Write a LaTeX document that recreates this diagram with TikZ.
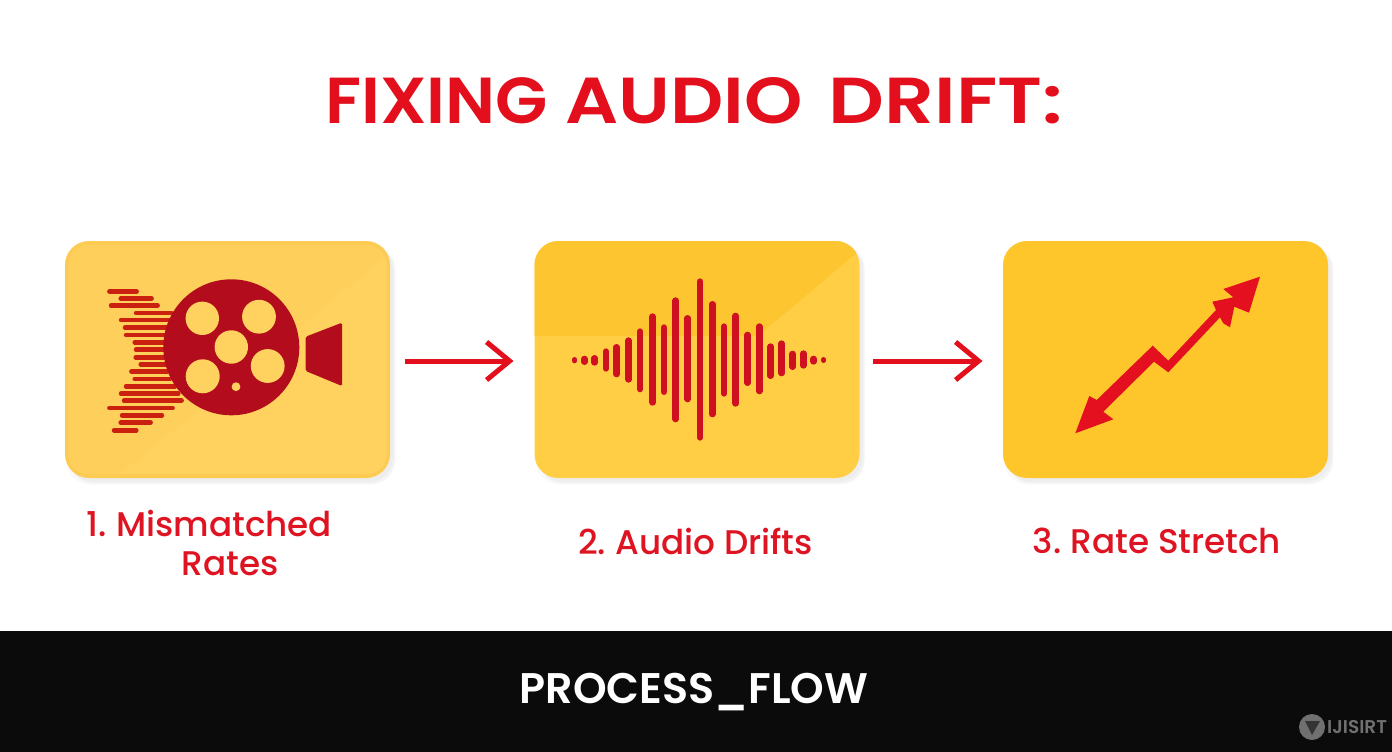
\documentclass[tikz,border=0pt]{standalone}
\usepackage{fontspec}
\setmainfont{Poppins}
\newfontfamily\titlefont{Poppins SemiBold}[FakeStretch=1.12]
\newfontfamily\labelfont{Poppins Medium}
\newfontfamily\footfont{Poppins SemiBold}
\usetikzlibrary{arrows.meta}
\definecolor{tred}{HTML}{E30F1C}
\definecolor{lred}{HTML}{DF1422}
\definecolor{reel}{HTML}{B30C1C}
\definecolor{stripe}{HTML}{C9200F}
\definecolor{wave}{HTML}{CE1020}
\definecolor{aok}{HTML}{E4101F}
\definecolor{cardA}{HTML}{FDCB52}
\definecolor{cardAin}{HTML}{FFD25F}
\definecolor{cardB}{HTML}{FFCE45}
\definecolor{cardBdark}{HTML}{FDC631}
\definecolor{cardC}{HTML}{FEC62B}
\definecolor{barblack}{HTML}{0B0B0B}
\definecolor{markgrey}{HTML}{707070}
\tikzset{
  cardbox/.style={minimum width=325pt,minimum height=237pt,rounded corners=24pt,inner sep=0pt,outer sep=0pt,draw=none},
  shadowbox/.style={cardbox,fill=black,fill opacity=0.025},
  flowline/.style={draw=tred,line width=5pt,-{Straight Barb[length=23pt,width=38pt,line width=5pt]}},
  steplabel/.style={text=lred,font=\labelfont\fontsize{34.2}{40}\selectfont,align=center,inner sep=0pt},
  stripeline/.style={draw=stripe,line width=4.4pt,line cap=round},
  waveline/.style={draw=wave,line cap=round},
}
\begin{document}
\begin{tikzpicture}[x=1pt,y=-1pt]
\useasboundingbox (0,0) rectangle (1392,752);
\fill[white] (0,0) rectangle (1392,752);
% shadows
\foreach \cx in {227.5,697,1165.5}{
  \node[shadowbox] at (\cx+3,363) {};
  \node[shadowbox] at (\cx+5,365) {};
  \node[shadowbox,minimum width=329pt,minimum height=241pt] at (\cx+3,364) {};
}
% cards
\node[cardbox,fill=cardA] (c1) at (227.5,359.5) {};
\node[cardbox,fill=cardB] (c2) at (697,359.5) {};
\node[cardbox,fill=cardC] (c3) at (1165.5,359.5) {};
% card 1 surface
\fill[cardAin,rounded corners=20pt] (68,245) rectangle (387,474);
\begin{scope}
  \clip[rounded corners=20pt] (68,245) rectangle (387,474);
  \fill[cardA,opacity=.35] (68,245) -- (387,245) -- (387,255) -- (120,474) -- (68,474) -- cycle;
\end{scope}
% card 2 surface
\begin{scope}
  \clip[rounded corners=24pt] (534.5,241) rectangle (859.5,478);
  \fill[cardBdark] (534,241) -- (860,241) -- (860,250) -- (758,336) -- (534,336) -- cycle;
\end{scope}
% film strip lines
\foreach \a/\b/\c in {148/230/170,182/275/191,153/293/212,228/335/234,183/330/255,195/320/278,198/315/300,224/315/322,228/312/344,227/312/367,242/320/388,214/322/410,224/330/432,198/345/454,183/355/476,192/365/497,148/338/519,186/306/541,182/272/563,162/229/586}{
  \draw[stripeline] ({60+\a/3},{235+\c/3}) -- ({60+\b/3},{235+\c/3});
}
% reel
\fill[reel] (231.3,347.3) circle (68);
\foreach \hx/\hy/\hr in {202.3/318.3/16.7,259/316.7/16.9,231.3/347/16.7,267.7/366/16.9,202.7/376.3/17,236/386.7/4.4}{
  \fill[cardAin] (\hx,\hy) circle (\hr);
}
% camera horn
\fill[reel,rounded corners=1.5pt] (305.7,336.7) -- (342,322.7) -- (342,386) -- (305.7,371) -- cycle;
% waveform
\foreach \x/\t/\b/\w in {134/295/306/5,163/287/315/6.4,194/285/317/6.4,228/265/335/6.4,260/252/352/6.4,296/232/368/6.4,330/205/397/6.4,368/160/437/6.4,402/193/405/6.4,437/112/487/6.4,473/165/427/6.4,510/55/542/6.4,547/123/472/6.4,582/190/410/6.4,617/158/440/6.4,653/215/378/6.4,688/190/403/6.4,722/250/357/6.4,755/241/349/6.4,788/272/330/6.4,820/271/326/6.4,851/287/314/6.4,881/294/306/5}{
  \draw[waveline,line width=\w pt] ({530+\x/3},{260+\t/3+\w/2}) -- ({530+\x/3},{260+\b/3-\w/2});
}
% double-headed zigzag arrow
\fill[aok] (1260,276.7) -- (1223.3,289) -- (1233.3,297.3) -- (1212.3,301.7) -- (1216,310) -- (1168.3,360.7) -- (1152.7,345.7) -- (1096.7,400) -- (1089.3,396) -- (1075.3,433.3) -- (1113.3,419.3) -- (1103.3,411.7) -- (1154,361.7) -- (1168.3,372.3) -- (1220,317.3) -- (1223.3,323.3) -- (1230,327.3) -- (1234.3,306.7) -- (1249,312.7) -- cycle;
% connectors
\draw[flowline,shorten <=14.5pt,shorten >=21pt] ([yshift=-1.5pt]c1.east) -- ([yshift=-1.5pt]c2.west);
\draw[flowline,shorten <=13.5pt,shorten >=20.5pt] ([yshift=-1.5pt]c2.east) -- ([yshift=-1.5pt]c3.west);
% title
\node[inner sep=0pt,text=tred,font=\titlefont\fontsize{65}{70}\selectfont] (title) at (694,101) {\scalebox{0.935}[1]{FIXING} \scalebox{1.02}[1]{AUDIO}\hspace{9pt} \scalebox{1.07}[1]{DRIFT:}};
% labels
\node[steplabel] (l1) at (209.5,543) {1.\hspace{-.08em} Mismatched\\[-1pt]\hspace{41pt}Rates};
\node[steplabel] (l2) at (695.5,541) {2.\hspace{-.08em} Audio Drifts};
\node[steplabel] (l3) at (1157,541) {3.\hspace{-.08em} Rate Stretch};
% bottom bar
\fill[barblack] (0,631) rectangle (1392,752);
\node[inner sep=0pt,text=white,font=\footfont\fontsize{42.8}{48}\selectfont] (footer) at (694,692.5) {PROCESS\_FLOW};
% watermark
\fill[markgrey] (1312,727) circle (13);
\fill[barblack!60!markgrey] (1305,721) -- (1320,721) -- (1312,735) -- cycle;
\node[inner sep=0pt,text=markgrey,anchor=west,font=\footfont\fontsize{18.5}{22}\selectfont] (mark) at (1327,727) {IJISIRT};
\end{tikzpicture}
\end{document}
